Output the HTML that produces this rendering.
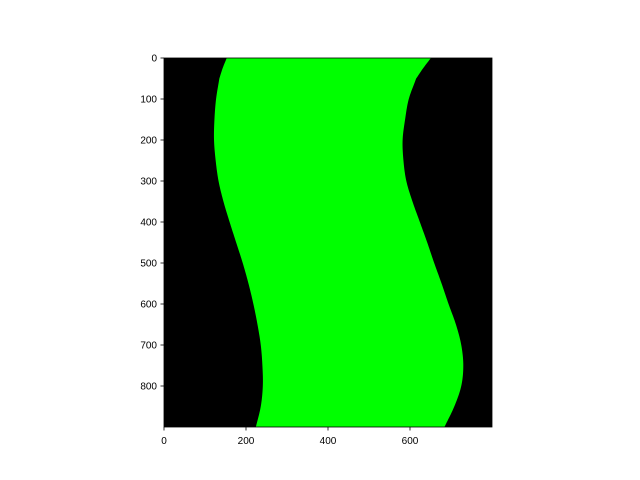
<!DOCTYPE html>
<html><head><meta charset="utf-8"><style>
body{margin:0;background:#fff;}
svg{display:block;font-family:"Liberation Sans","DejaVu Sans",sans-serif;}
</style></head><body>
<svg id="chart" width="640" height="480" viewBox="0 0 640 480"></svg>
<script>
const rows = [0,25,50,100,150,200,250,300,350,400,450,500,550,600,650,700,750,800,850,900];
const leftEdge = [153,143,135,127,123,122,126,133,145,160,176,192,206,218,228,236,240,241,236,224];
const rightEdge = [651,632,615,597,588,582,584,591,606,624,642,659,677,694,712,725,730,725,708,684];
const xTicks = [0,200,400,600];
const yTicks = [0,100,200,300,400,500,600,700,800];
const W=800,H=900;
const X0=164,X1=492,Y0=58,Y1=427;
const sx=v=>X0+(v/W)*(X1-X0);
const sy=v=>Y0+(v/H)*(Y1-Y0);
const NS='http://www.w3.org/2000/svg';
const svg=document.getElementById('chart');
function mk(t,a,p){const e=document.createElementNS(NS,t);for(const k in a)e.setAttribute(k,a[k]);(p||svg).appendChild(e);return e;}
const bg=mk('rect',{x:X0,y:Y0,width:X1-X0,height:Y1-Y0,fill:'#000'});


function sample(xs){const pts=[];const n=rows.length;
 for(let i=0;i<n-1;i++){for(let s=0;s<10;s++){const t=s/10;
  const p0=i>0?xs[i-1]:2*xs[0]-xs[1],p1=xs[i],p2=xs[i+1],p3=i+2<n?xs[i+2]:2*xs[n-1]-xs[n-2];
  const f=(a,b,c,d)=>0.5*((2*b)+(-a+c)*t+(2*a-5*b+4*c-d)*t*t+(-a+3*b-3*c+d)*t*t*t);
  pts.push([f(p0,p1,p2,p3),rows[i]+(rows[i+1]-rows[i])*t]);}}
 pts.push([xs[n-1],rows[n-1]]);return pts;}
const L=sample(leftEdge),R=sample(rightEdge).reverse();
const d=L.concat(R).map((p,i)=>(i?'L':'M')+sx(p[0]).toFixed(2)+' '+sy(p[1]).toFixed(2)).join(' ')+'Z';
const band=mk('path',{d:d,fill:'#00ff00'});


const fr=mk('rect',{x:X0,y:Y0,width:X1-X0,height:Y1-Y0,fill:'none',stroke:'#000','stroke-width':0.8});


xTicks.forEach(v=>{const x=sx(v);
 const l=mk('line',{x1:x,x2:x,y1:Y1,y2:Y1+3.5,stroke:'#000','stroke-width':0.8});
 
 
 const t=mk('text',{x:x,y:Y1+17,'text-anchor':'middle','font-size':'10px',fill:'#000'});t.textContent=v;
 
 });
yTicks.forEach(v=>{const y=sy(v);
 const l=mk('line',{x1:X0-3.5,x2:X0,y1:y,y2:y,stroke:'#000','stroke-width':0.8});
 
 
 const t=mk('text',{x:X0-7,y:y+3.5,'text-anchor':'end','font-size':'10px',fill:'#000'});t.textContent=v;
 
 });
</script>
</body></html>
